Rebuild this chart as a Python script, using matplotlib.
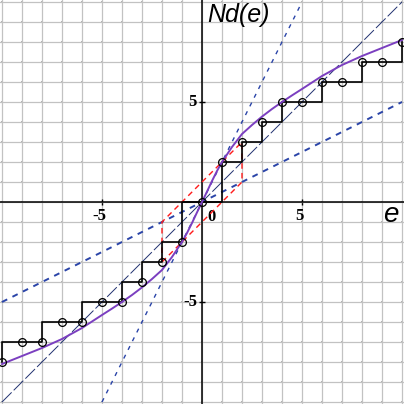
import numpy as np
import matplotlib
matplotlib.use("Agg")
from matplotlib import pyplot as plt


# staircase values at the integers
step_x = list(range(-10, 11))
step_y = [-8, -7, -7, -6, -6, -5, -5, -4, -3, -2, 0, 2, 3, 4, 5, 5, 6, 6, 7, 7, 8]

# purple curve (odd function)
curve_x = [0, 0.25, 0.5, 0.75, 1, 1.5, 2, 2.5, 3, 3.5, 4, 4.5, 5, 6, 7, 8, 9, 10]
curve_y = [0, 0.52, 1.05, 1.55, 2.0, 2.75, 3.4, 3.85, 4.27, 4.65, 5.0, 5.33, 5.65, 6.3, 6.85, 7.3, 7.7, 8.1]

# guide lines (end points)
diag_x = [-10, 10]
diag_y = [-10, 10]
steep_x = [-5, 5]
steep_y = [-10, 10]
flat_x = [-10, 10]
flat_y = [-5, 5]

# red parallelogram
red_x = [-2, 2, 2, -2, -2]
red_y = [-3, 1, 3, -1, -3]

tick_vals = [-5, 5]
tick_labels = ['-5', '5']


def main():
	fig = plt.figure(figsize=(4.04, 4.04), dpi=100)
	ax = fig.add_axes([0, 0, 1, 1])
	ax.set_xlim(-10.1, 10.1)
	ax.set_ylim(-10.1, 10.1)

	# grid every unit
	ax.set_xticks(np.arange(-10, 11), minor=True)
	ax.set_yticks(np.arange(-10, 11), minor=True)
	ax.grid(which='both', color='#c2c2c2', linewidth=0.9, zorder=0)
	ax.set_axisbelow(True)
	gx, gy = np.meshgrid(np.arange(-10, 11), np.arange(-10, 11))
	ax.scatter(gx.ravel(), gy.ravel(), s=3.5, marker='s', color='#b0b0b0', linewidths=0, zorder=0.5)

	# axes through the origin
	for side in ['top', 'right']:
		ax.spines[side].set_visible(False)
	ax.spines['left'].set_position(('data', 0))
	ax.spines['bottom'].set_position(('data', 0))
	ax.spines['left'].set_linewidth(1.1)
	ax.spines['bottom'].set_linewidth(1.1)
	ax.set_xticks(tick_vals)
	ax.set_yticks(tick_vals)
	ax.set_xticklabels([])
	ax.set_yticklabels([])
	ax.tick_params(which='major', direction='inout', length=5, width=1)
	ax.tick_params(which='minor', length=0)

	font = dict(family='Liberation Serif', fontweight='bold', fontsize=12)
	for v, lab in zip(tick_vals, tick_labels):
		ax.text(v - 0.15, -0.3, lab, ha='center', va='top', **font)
		ax.text(-0.25, v, lab, ha='right', va='center', **font)
	ax.text(0.45, -0.35, '0', ha='center', va='top', **font)

	ax.text(0.25, 9.0, 'Nd(e)', fontsize=18, style='italic', family='Liberation Sans', ha='left', va='baseline')
	ax.text(9.05, -1.0, 'e', fontsize=20, style='italic', family='Liberation Sans', ha='left', va='baseline')

	# guide lines
	ax.plot(diag_x, diag_y, color='#203070', linewidth=0.7, dashes=(14, 3), zorder=2)
	ax.plot(steep_x, steep_y, color='#2a44a8', linewidth=1.0, dashes=(3, 4), zorder=2)
	ax.plot(flat_x, flat_y, color='#2a44a8', linewidth=1.4, dashes=(3, 3), zorder=2)
	ax.plot(red_x, red_y, color='#ff1a1a', linewidth=1.0, dashes=(4, 3), zorder=3)

	# staircase
	ax.plot(step_x[:11], step_y[:11], drawstyle='steps-pre', color='black', linewidth=1.2, zorder=4)
	ax.plot(step_x[10:], step_y[10:], drawstyle='steps-post', color='black', linewidth=1.2, zorder=4)

	# purple curve
	cx = [-v for v in curve_x[::-1]] + curve_x[1:]
	cy = [-v for v in curve_y[::-1]] + curve_y[1:]
	ax.plot(cx, cy, color='#7b3fc0', linewidth=1.4, zorder=5)

	ax.plot(step_x, step_y, linestyle='none', marker='o', markersize=5.6, markerfacecolor='none',
		markeredgecolor='black', markeredgewidth=0.9, zorder=6)

	fig.patch.set_edgecolor('#c2c2c2')
	fig.patch.set_linewidth(3)
	fig.savefig('out.png', dpi=100, edgecolor=fig.get_edgecolor())


if __name__ == '__main__':
	main()
